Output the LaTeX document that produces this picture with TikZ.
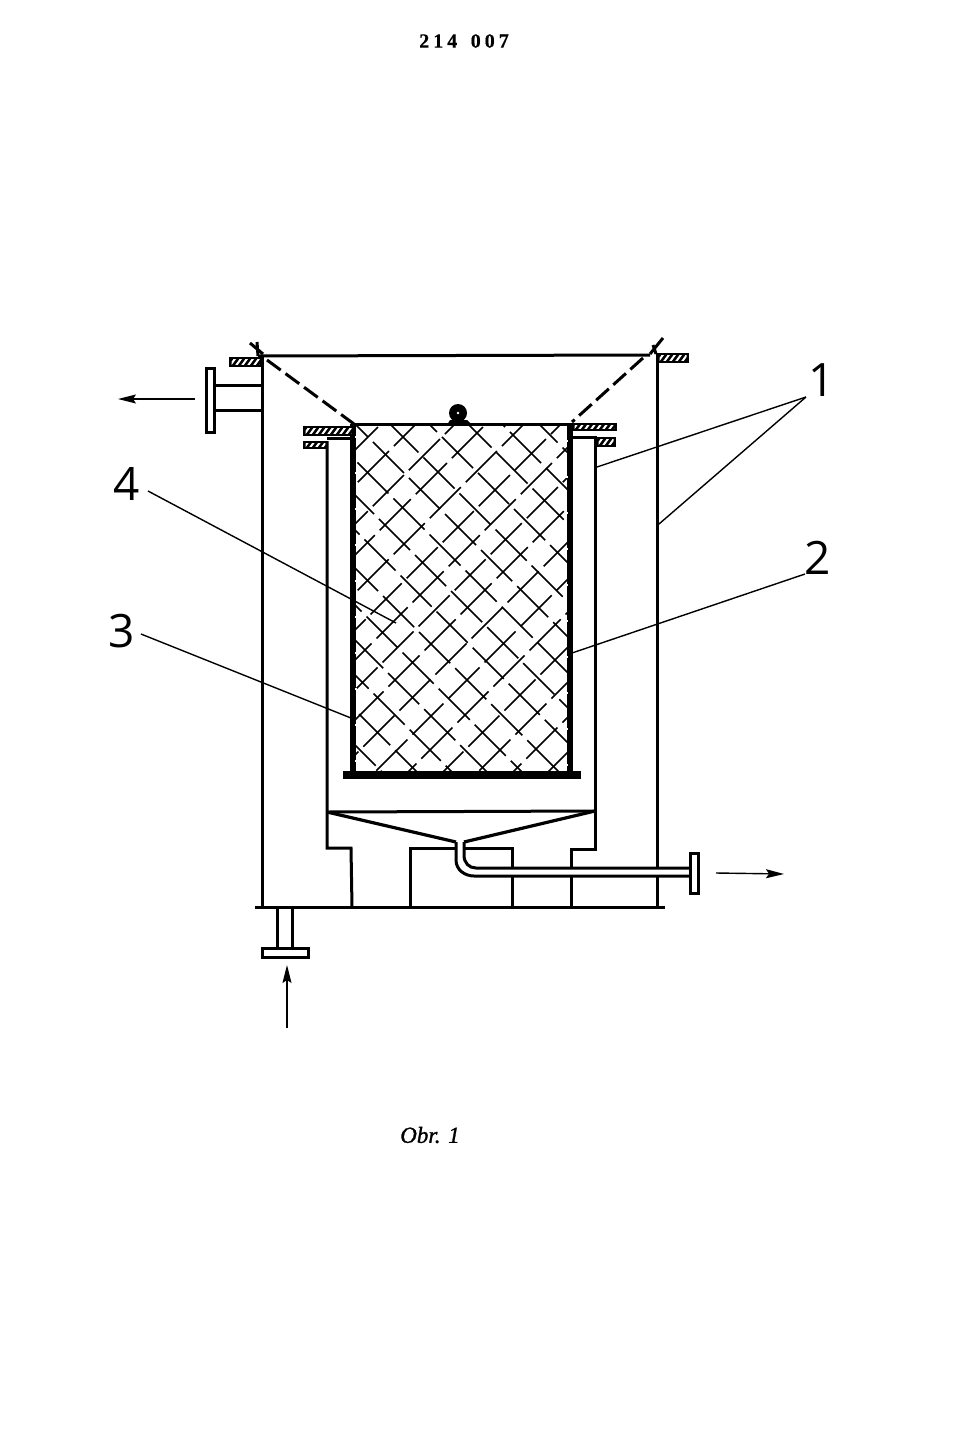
\documentclass[tikz,border=0pt]{standalone}
\usepackage{fontspec}
\usetikzlibrary{arrows.meta}
\newfontfamily\headfont[LetterSpace=20, WordSpace=1.5, FakeBold=0.5]{Liberation Serif}
\newfontfamily\captionfont[FakeBold=1.2]{Liberation Serif}
\newfontfamily\numeralfont{Open Sans}
\newcommand{\hatchflange}[4]{
    \fill (#1, #2) rectangle (#3, #4);
    \begin{scope}
        \clip ({#1+2.5}, {#2+2.5}) rectangle ({#3-2.5}, {#4-2.5});
        \foreach \s in {-6, 0, ..., 54} {
            \draw[white, line width=2pt] ({#1+\s}, #4) -- ++(8, -11);
        }
    \end{scope}
}
\tikzset{
    wall/.style={line width=3pt},
    heavy/.style={line width=6.5pt},
    leader/.style={line width=1.4pt},
    flow/.style={line width=1.4pt, ->},
    meshline/.style={line width=1.7pt, dash pattern=on 44pt off 7pt},
    numeral/.style={font=\numeralfont\fontsize{46}{50}\selectfont}
}

\begin{document}
\begin{tikzpicture}[x=1pt, y=-1pt, >={Stealth[length=18pt, width=9pt, inset=3pt]}]
    \useasboundingbox (0, 0) rectangle (960, 1448);

    % mesh
    \begin{scope}
        \clip (355, 425) rectangle (570, 773);
        \foreach \c [count=\i] in {771, 805, 840, 879, 910, 948, 985, 1015, 1045, 1075, 1110, 1147, 1180, 1215, 1250, 1285, 1320} {
            \draw[meshline, dash phase={\i*17pt}] ({\c-415}, 415) -- ({\c-785}, 785);
        }
        \foreach \d [count=\i] in {-425, -390, -355, -320, -285, -250, -213, -175, -140, -105, -69, -34, 5, 44, 78, 115} {
            \draw[meshline, dash phase={\i*29pt}] ({\d+415}, 415) -- ({\d+785}, 785);
        }
    \end{scope}

    % outer vessel
    \draw[wall] (262, 356) -- (262, 907);
    \draw[wall] (657, 354) -- (657, 907);
    \draw[wall] (258, 356) -- (650, 355);
    \draw[wall] (255, 907) -- (665, 907);
    \hatchflange{229}{357}{262}{367}
    \hatchflange{657}{353}{689}{363}

    % cone of the lid
    \draw[wall] (250, 343) -- (263, 354);
    \draw[wall] (257, 342) -- (258, 356);
    \draw[line width=3pt, dash pattern=on 17pt off 6pt] (267, 360) -- (354, 424);
    \draw[wall] (663, 338) -- (650, 354);
    \draw[wall] (653, 345) -- (656, 354);
    \draw[line width=3pt, dash pattern=on 17pt off 6pt] (643, 358) -- (572, 422);

    % side outlet
    \draw[wall] (214, 385) -- (262, 385);
    \draw[wall] (214, 410) -- (262, 410);
    \draw[wall] (206, 368) rectangle (214, 432);

    % basket
    \draw[wall] (353, 424.5) -- (572, 424.5);
    \draw[heavy] (353, 424) -- (353, 775);
    \draw[heavy] (570, 424) -- (570, 775);
    \draw[white, line width=2pt, dash pattern=on 2pt off 34pt] (356, 436) -- (356, 772);
    \draw[white, line width=2pt, dash pattern=on 2pt off 34pt] (567, 440) -- (567, 772);
    \draw[line width=7.5pt] (343, 775) -- (581, 775);

    % ball on the lid
    \fill (458, 413) circle [radius=9pt];
    \fill[white] (458, 413) circle [radius=1.3pt];
    \fill (447, 425) -- (450, 420) -- (467, 420) -- (472, 425) -- cycle;

    % flanges
    \hatchflange{303}{426}{354}{436}
    \hatchflange{303}{441}{328}{449}
    \hatchflange{572}{423}{617}{431}
    \hatchflange{596}{437}{616}{447}
    \draw[wall] (327, 438) -- (353, 438);
    \draw[wall] (573, 437) -- (597, 437);

    % jacket
    \draw[wall] (327, 441) -- (327, 848) -- (351, 848) -- (352, 907);
    \draw[wall] (595, 437) -- (595, 849) -- (571, 849) -- (571, 907);
    \draw[wall] (410, 907) -- (410, 848) -- (512, 848) -- (512, 907);
    \draw[wall] (327, 812) -- (595, 811);
    \draw[line width=3.2pt] (327, 812) -- (456, 842);
    \draw[line width=3.2pt] (595, 811) -- (464, 842);

    % drain pipe
    \fill[white] (457, 842) -- (457, 860) .. controls (457, 870) and (465, 875) .. (474, 875) -- (689, 875) -- (689, 869) -- (476, 869) .. controls (468, 869) and (463, 864) .. (463, 855) -- (463, 842) -- cycle;
    \draw[wall] (456, 842) -- (456, 860) .. controls (456, 870) and (465, 876) .. (474, 876) -- (689, 876);
    \draw[wall] (464, 842) -- (464, 855) .. controls (464, 863) and (469, 868) .. (476, 868) -- (689, 868);
    \draw[wall] (690, 853) rectangle (698, 893);

    % lower inlet
    \draw[wall] (277, 907) -- (277, 947);
    \draw[wall] (292, 907) -- (292, 947);
    \draw[wall] (262, 948) rectangle (308, 957);

    % flow arrows
    \coordinate (outA) at (195, 399);
    \coordinate (outB) at (118, 399);
    \coordinate (drainA) at (716, 873);
    \coordinate (drainB) at (784, 874);
    \coordinate (inA) at (287, 1028);
    \coordinate (inB) at (287, 965);
    \draw[flow] (outA) -- (outB);
    \draw[flow] (drainA) -- (drainB);
    \draw[flow] (inA) -- (inB);

    % part numbers
    \node[numeral] (num1) at (822, 380) {1};
    \node[numeral] (num2) at (818, 558) {2};
    \node[numeral] (num3) at (122, 631) {3};
    \node[numeral] (num4) at (127, 484) {4};
    \coordinate (fork) at (806, 397);
    \coordinate (tipJacket) at (597, 467);
    \coordinate (tipVessel) at (659, 524);
    \coordinate (tipBasket) at (572, 653);
    \coordinate (tipWall) at (351, 718);
    \coordinate (tipMesh) at (396, 623);
    \draw[leader] (fork) -- (tipJacket);
    \draw[leader] (fork) -- (tipVessel);
    \draw[leader] (805, 574) -- (tipBasket);
    \draw[leader] (141, 634) -- (tipWall);
    \draw[leader] (148, 491) -- (tipMesh);

    % page texts
    \node[font=\headfont\bfseries\fontsize{20}{21}\selectfont] (heading) at (464, 41) {214 007};
    \node[font=\captionfont\itshape\fontsize{23}{24}\selectfont] (caption) at (430, 1135) {Obr. 1};
\end{tikzpicture}
\end{document}
